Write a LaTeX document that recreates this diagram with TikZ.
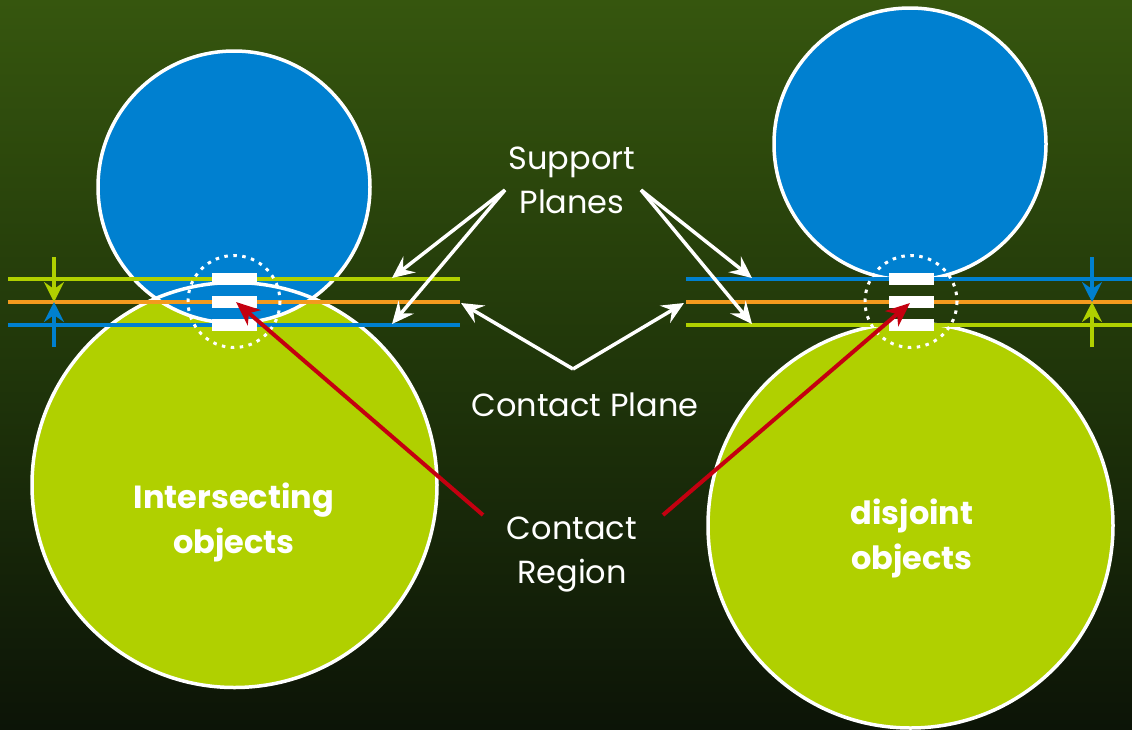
\documentclass[tikz,border=0pt]{standalone}
\usepackage{fontspec}
\setmainfont{Poppins}
\usetikzlibrary{arrows.meta}
\definecolor{bgtop}{RGB}{54,86,14}
\definecolor{bgmid}{RGB}{32,54,10}
\definecolor{bgbot}{RGB}{12,20,7}
\definecolor{objblue}{RGB}{0,128,208}
\definecolor{objgreen}{RGB}{176,208,0}
\definecolor{planeorange}{RGB}{243,154,30}
\definecolor{arrred}{RGB}{196,0,16}
\tikzset{
  objoutline/.style={draw=white, line width=3.5pt},
  plane/.style={line width=3.5pt},
  bar/.style={fill=white, draw=none},
  dotring/.style={draw=white, line width=3pt, dash pattern=on 3.5pt off 5.5pt},
  gap/.style={line width=3.5pt, -{Stealth[length=20pt,width=20pt,inset=7pt]}},
  whitearrow/.style={draw=white, line width=3.5pt, -{Stealth[length=22pt,width=20pt,inset=8pt]}},
  redarrow/.style={draw=arrred, line width=4pt, -{Stealth[length=24pt,width=20pt,inset=7pt]}},
  lbl/.style={text=white, font=\fontsize{32}{44}\selectfont, align=center, inner sep=0pt},
  objlbl/.style={text=white, font=\fontsize{32}{45}\selectfont\bfseries, align=center, inner sep=0pt}
}
\begin{document}
\begin{tikzpicture}[x=1pt,y=-1pt]
\useasboundingbox (0,0) rectangle (1132,729);
\shade[top color=bgtop, bottom color=bgbot, middle color=bgmid] (0,0) rectangle (1132,729);

% ---------- left: intersecting ----------
\fill[objgreen] (234.5,485) circle (202.5);
\fill[objblue] (234,187) circle (136);
\draw[objoutline] (234.5,485) circle (202.5);
\draw[objoutline] (234,187) circle (136);

\coordinate (LgA) at (8,279);  \coordinate (LgB) at (460,279);
\coordinate (LoA) at (8,302);  \coordinate (LoB) at (460,302);
\coordinate (LbA) at (8,325);  \coordinate (LbB) at (460,325);
\draw[plane, objgreen] (LgA) -- (LgB);
\draw[plane, planeorange] (LoA) -- (LoB);
\draw[plane, objblue] (LbA) -- (LbB);

\fill[bar] (212,273) rectangle (257,285);
\fill[bar] (212,296) rectangle (257,308);
\fill[bar] (212,319) rectangle (257,331);
\draw[dotring] (234,301.5) circle (46);

\coordinate (LgapT) at (54,257); \coordinate (LgapTt) at (54,302);
\coordinate (LgapB) at (54,347); \coordinate (LgapBt) at (54,302);
\draw[gap, objgreen] (LgapT) -- (LgapTt);
\draw[gap, objblue] (LgapB) -- (LgapBt);

% ---------- right: disjoint ----------
\fill[objgreen] (910.5,525.5) circle (202.5);
\fill[objblue] (910,144) circle (136);
\draw[objoutline] (910.5,525.5) circle (202.5);
\draw[objoutline] (910,144) circle (136);

\coordinate (RbA) at (686,279); \coordinate (RbB) at (1132,279);
\coordinate (RoA) at (686,302); \coordinate (RoB) at (1132,302);
\coordinate (RgA) at (686,325); \coordinate (RgB) at (1132,325);
\draw[plane, objblue] (RbA) -- (RbB);
\draw[plane, planeorange] (RoA) -- (RoB);
\draw[plane, objgreen] (RgA) -- (RgB);

\fill[bar] (889,273) rectangle (934,285);
\fill[bar] (889,296) rectangle (934,308);
\fill[bar] (889,319) rectangle (934,331);
\draw[dotring] (911,301.5) circle (46);

\coordinate (RgapT) at (1092,257); \coordinate (RgapTt) at (1092,302);
\coordinate (RgapB) at (1092,347); \coordinate (RgapBt) at (1092,302);
\draw[gap, objblue] (RgapT) -- (RgapTt);
\draw[gap, objgreen] (RgapB) -- (RgapBt);

% ---------- labels ----------
\node[lbl] (support) at (572,180) {Support\\Planes};
\node[lbl] (cplane) at (585,405) {Contact Plane};
\node[lbl] (cregion) at (572,555) {Contact\\Region};
\node[objlbl] (inter) at (234,522) {Intersecting\\objects};
\node[objlbl] (disj) at (912,538) {disjoint\\objects};

% support plane arrows
\coordinate (spL) at (505,190);
\coordinate (spR) at (641,190);
\coordinate (tLg) at (392,278);
\coordinate (tLb) at (392,324);
\coordinate (tRb) at (752,278);
\coordinate (tRg) at (752,324);
\draw[whitearrow] (spL) -- (tLg);
\draw[whitearrow] (spL) -- (tLb);
\draw[whitearrow] (spR) -- (tRb);
\draw[whitearrow] (spR) -- (tRg);

% contact plane arrows
\coordinate (cpV) at (573,369);
\coordinate (tLo) at (461,303);
\coordinate (tRo) at (684,303);
\draw[whitearrow] (cpV) -- (tLo);
\draw[whitearrow] (cpV) -- (tRo);

% contact region arrows
\coordinate (crL) at (483,515);
\coordinate (crR) at (663,515);
\coordinate (tLc) at (236,302);
\coordinate (tRc) at (910,303);
\draw[redarrow] (crL) -- (tLc);
\draw[redarrow] (crR) -- (tRc);
\end{tikzpicture}
\end{document}
